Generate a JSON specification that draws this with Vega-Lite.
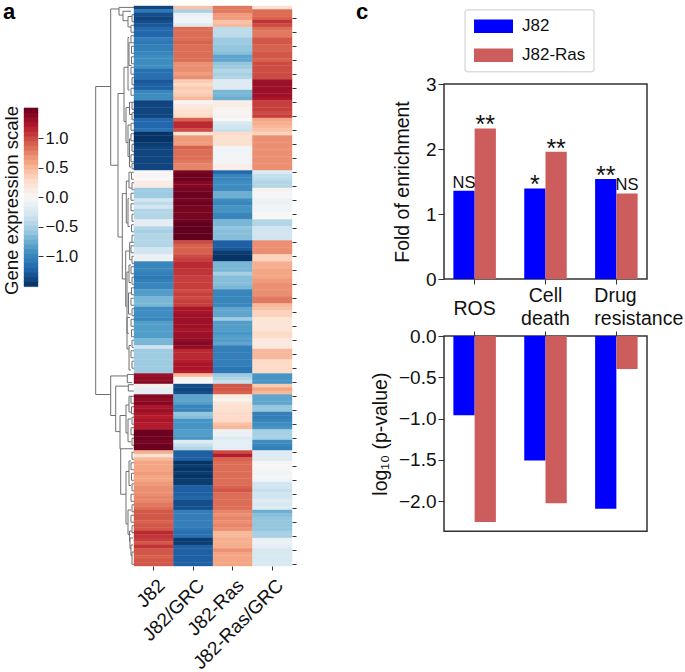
{"$schema":"https://vega.github.io/schema/vega-lite/v6.json","padding":{"left":2,"top":1,"right":0,"bottom":0},"background":"white","bounds":"flush","spacing":0,"config":{"font":"Liberation Sans","axis":{"labelFont":"Liberation Sans","titleFont":"Liberation Sans","labelColor":"#111","titleColor":"#111","tickColor":"#333","grid":false,"titleFontWeight":"normal"},"title":{"font":"Liberation Sans"},"legend":{"labelFont":"Liberation Sans","strokeWidth":1.5}},"datasets":{"heat":[
{"row":0,"J82":-1.4,"J82/GRC":0.45,"J82-Ras":0.8,"J82-Ras/GRC":0.25},{"row":1,"J82":-1.1,"J82/GRC":-0.5,"J82-Ras":0.8,"J82-Ras/GRC":0.85},{"row":2,"J82":-1.35,"J82/GRC":-0.1,"J82-Ras":0.65,"J82-Ras/GRC":0.85},{"row":3,"J82":-1.4,"J82/GRC":-0.05,"J82-Ras":0.65,"J82-Ras/GRC":0.9},{"row":4,"J82":-1.35,"J82/GRC":-0.05,"J82-Ras":0.45,"J82-Ras/GRC":1.1},{"row":5,"J82":-1.3,"J82/GRC":-0.2,"J82-Ras":0.5,"J82-Ras/GRC":1.0},{"row":6,"J82":-1.2,"J82/GRC":0.85,"J82-Ras":-0.4,"J82-Ras/GRC":0.85},{"row":7,"J82":-1.2,"J82/GRC":0.85,"J82-Ras":-0.4,"J82-Ras/GRC":0.8},{"row":8,"J82":-1.2,"J82/GRC":0.85,"J82-Ras":-0.4,"J82-Ras/GRC":0.8},{"row":9,"J82":-1.05,"J82/GRC":0.85,"J82-Ras":-0.55,"J82-Ras/GRC":0.95},
{"row":10,"J82":-1.1,"J82/GRC":0.9,"J82-Ras":-0.55,"J82-Ras/GRC":0.95},{"row":11,"J82":-1.05,"J82/GRC":0.85,"J82-Ras":-0.6,"J82-Ras/GRC":0.9},{"row":12,"J82":-1.05,"J82/GRC":0.85,"J82-Ras":-0.6,"J82-Ras/GRC":0.9},{"row":13,"J82":-1.0,"J82/GRC":0.85,"J82-Ras":-0.65,"J82-Ras/GRC":0.95},{"row":14,"J82":-0.95,"J82/GRC":0.85,"J82-Ras":-0.8,"J82-Ras/GRC":0.95},{"row":15,"J82":-0.95,"J82/GRC":0.85,"J82-Ras":-0.8,"J82-Ras/GRC":0.9},{"row":16,"J82":-0.95,"J82/GRC":0.7,"J82-Ras":-0.6,"J82-Ras/GRC":1.0},{"row":17,"J82":-0.95,"J82/GRC":0.7,"J82-Ras":-0.55,"J82-Ras/GRC":1.0},{"row":18,"J82":-1.15,"J82/GRC":0.7,"J82-Ras":-0.45,"J82-Ras/GRC":1.0},{"row":19,"J82":-1.15,"J82/GRC":0.65,"J82-Ras":-0.5,"J82-Ras/GRC":1.0},
{"row":20,"J82":-1.15,"J82/GRC":0.7,"J82-Ras":-0.45,"J82-Ras/GRC":1.0},{"row":21,"J82":-1.3,"J82/GRC":0.4,"J82-Ras":-0.2,"J82-Ras/GRC":1.3},{"row":22,"J82":-1.25,"J82/GRC":0.3,"J82-Ras":-0.2,"J82-Ras/GRC":1.3},{"row":23,"J82":-1.25,"J82/GRC":0.4,"J82-Ras":-0.2,"J82-Ras/GRC":1.3},{"row":24,"J82":-1.0,"J82/GRC":0.35,"J82-Ras":-0.7,"J82-Ras/GRC":1.3},{"row":25,"J82":-0.95,"J82/GRC":0.4,"J82-Ras":-0.7,"J82-Ras/GRC":1.3},{"row":26,"J82":-0.95,"J82/GRC":0.5,"J82-Ras":-0.75,"J82-Ras/GRC":1.25},{"row":27,"J82":-1.4,"J82/GRC":0.02,"J82-Ras":0.1,"J82-Ras/GRC":1.05},{"row":28,"J82":-1.4,"J82/GRC":0.15,"J82-Ras":0.1,"J82-Ras/GRC":1.05},{"row":29,"J82":-1.4,"J82/GRC":0.2,"J82-Ras":0.05,"J82-Ras/GRC":1.05},
{"row":30,"J82":-1.4,"J82/GRC":0.25,"J82-Ras":0.02,"J82-Ras/GRC":1.0},{"row":31,"J82":-1.4,"J82/GRC":0.3,"J82-Ras":0.05,"J82-Ras/GRC":1.05},{"row":32,"J82":-1.2,"J82/GRC":0.9,"J82-Ras":0.0,"J82-Ras/GRC":0.6},{"row":33,"J82":-1.2,"J82/GRC":1.15,"J82-Ras":-0.25,"J82-Ras/GRC":0.55},{"row":34,"J82":-1.2,"J82/GRC":1.15,"J82-Ras":-0.3,"J82-Ras/GRC":0.5},{"row":35,"J82":-1.15,"J82/GRC":1.0,"J82-Ras":-0.35,"J82-Ras/GRC":0.45},{"row":36,"J82":-1.5,"J82/GRC":0.2,"J82-Ras":0.3,"J82-Ras/GRC":0.35},{"row":37,"J82":-1.5,"J82/GRC":0.65,"J82-Ras":0.25,"J82-Ras/GRC":0.7},{"row":38,"J82":-1.5,"J82/GRC":0.65,"J82-Ras":0.25,"J82-Ras/GRC":0.7},{"row":39,"J82":-1.45,"J82/GRC":0.65,"J82-Ras":0.25,"J82-Ras/GRC":0.7},
{"row":40,"J82":-1.4,"J82/GRC":0.9,"J82-Ras":-0.05,"J82-Ras/GRC":0.7},{"row":41,"J82":-1.4,"J82/GRC":0.85,"J82-Ras":-0.05,"J82-Ras/GRC":0.7},{"row":42,"J82":-1.4,"J82/GRC":0.85,"J82-Ras":-0.05,"J82-Ras/GRC":0.7},{"row":43,"J82":-1.4,"J82/GRC":0.85,"J82-Ras":-0.05,"J82-Ras/GRC":0.7},{"row":44,"J82":-1.4,"J82/GRC":0.8,"J82-Ras":-0.05,"J82-Ras/GRC":0.7},{"row":45,"J82":-1.4,"J82/GRC":0.75,"J82-Ras":0.1,"J82-Ras/GRC":0.7},{"row":46,"J82":-1.4,"J82/GRC":0.75,"J82-Ras":0.1,"J82-Ras/GRC":0.7},{"row":47,"J82":0.0,"J82/GRC":1.45,"J82-Ras":-1.2,"J82-Ras/GRC":-0.2},{"row":48,"J82":0.02,"J82/GRC":1.5,"J82-Ras":-1.0,"J82-Ras/GRC":-0.35},{"row":49,"J82":0.0,"J82/GRC":1.5,"J82-Ras":-1.0,"J82-Ras/GRC":-0.4},
{"row":50,"J82":0.12,"J82/GRC":1.4,"J82-Ras":-0.95,"J82-Ras/GRC":-0.45},{"row":51,"J82":0.12,"J82/GRC":1.4,"J82-Ras":-0.95,"J82-Ras/GRC":-0.45},{"row":52,"J82":-0.55,"J82/GRC":1.45,"J82-Ras":-0.95,"J82-Ras/GRC":0.05},{"row":53,"J82":-0.55,"J82/GRC":1.5,"J82-Ras":-0.75,"J82-Ras/GRC":-0.02},{"row":54,"J82":-0.55,"J82/GRC":1.5,"J82-Ras":-0.75,"J82-Ras/GRC":-0.02},{"row":55,"J82":-0.3,"J82/GRC":1.45,"J82-Ras":-0.95,"J82-Ras/GRC":-0.1},{"row":56,"J82":-0.4,"J82/GRC":1.5,"J82-Ras":-1.0,"J82-Ras/GRC":-0.1},{"row":57,"J82":-0.3,"J82/GRC":1.45,"J82-Ras":-0.9,"J82-Ras/GRC":-0.05},{"row":58,"J82":-0.45,"J82/GRC":1.45,"J82-Ras":-0.9,"J82-Ras/GRC":-0.05},{"row":59,"J82":-0.45,"J82/GRC":1.45,"J82-Ras":-1.0,"J82-Ras/GRC":0.0},
{"row":60,"J82":-0.45,"J82/GRC":1.45,"J82-Ras":-1.0,"J82-Ras/GRC":0.0},{"row":61,"J82":-0.15,"J82/GRC":1.5,"J82-Ras":-0.7,"J82-Ras/GRC":-0.45},{"row":62,"J82":-0.15,"J82/GRC":1.55,"J82-Ras":-0.7,"J82-Ras/GRC":-0.45},{"row":63,"J82":-0.45,"J82/GRC":1.55,"J82-Ras":-0.6,"J82-Ras/GRC":-0.3},{"row":64,"J82":-0.5,"J82/GRC":1.55,"J82-Ras":-0.65,"J82-Ras/GRC":-0.3},{"row":65,"J82":-0.45,"J82/GRC":1.55,"J82-Ras":-0.65,"J82-Ras/GRC":-0.3},{"row":66,"J82":-0.45,"J82/GRC":1.55,"J82-Ras":-0.65,"J82-Ras/GRC":-0.3},{"row":67,"J82":-0.45,"J82/GRC":1.0,"J82-Ras":-1.25,"J82-Ras/GRC":0.7},{"row":68,"J82":-0.45,"J82/GRC":0.9,"J82-Ras":-1.25,"J82-Ras/GRC":0.7},{"row":69,"J82":-0.3,"J82/GRC":0.9,"J82-Ras":-1.3,"J82-Ras/GRC":0.7},
{"row":70,"J82":-0.3,"J82/GRC":0.9,"J82-Ras":-1.45,"J82-Ras/GRC":0.7},{"row":71,"J82":-0.1,"J82/GRC":1.0,"J82-Ras":-1.5,"J82-Ras/GRC":0.35},{"row":72,"J82":-0.1,"J82/GRC":1.05,"J82-Ras":-1.5,"J82-Ras/GRC":0.35},{"row":73,"J82":-1.0,"J82/GRC":1.15,"J82-Ras":-0.7,"J82-Ras/GRC":0.55},{"row":74,"J82":-1.0,"J82/GRC":1.15,"J82-Ras":-0.7,"J82-Ras/GRC":0.55},{"row":75,"J82":-1.0,"J82/GRC":1.1,"J82-Ras":-0.7,"J82-Ras/GRC":0.6},{"row":76,"J82":-1.05,"J82/GRC":1.1,"J82-Ras":-0.5,"J82-Ras/GRC":0.6},{"row":77,"J82":-1.1,"J82/GRC":1.05,"J82-Ras":-0.65,"J82-Ras/GRC":0.6},{"row":78,"J82":-1.05,"J82/GRC":1.05,"J82-Ras":-0.65,"J82-Ras/GRC":0.65},{"row":79,"J82":-1.0,"J82/GRC":1.05,"J82-Ras":-0.65,"J82-Ras/GRC":0.7},
{"row":80,"J82":-1.0,"J82/GRC":1.05,"J82-Ras":-0.7,"J82-Ras/GRC":0.7},{"row":81,"J82":-0.85,"J82/GRC":1.0,"J82-Ras":-1.0,"J82-Ras/GRC":0.7},{"row":82,"J82":-0.85,"J82/GRC":1.05,"J82-Ras":-1.0,"J82-Ras/GRC":0.7},{"row":83,"J82":-0.7,"J82/GRC":1.0,"J82-Ras":-1.0,"J82-Ras/GRC":0.8},{"row":84,"J82":-0.7,"J82/GRC":1.05,"J82-Ras":-1.0,"J82-Ras/GRC":0.8},{"row":85,"J82":-0.7,"J82/GRC":1.05,"J82-Ras":-1.0,"J82-Ras/GRC":0.5},{"row":86,"J82":-0.95,"J82/GRC":1.25,"J82-Ras":-0.8,"J82-Ras/GRC":0.45},{"row":87,"J82":-0.95,"J82/GRC":1.25,"J82-Ras":-0.8,"J82-Ras/GRC":0.35},{"row":88,"J82":-0.95,"J82/GRC":1.3,"J82-Ras":-0.8,"J82-Ras/GRC":0.35},{"row":89,"J82":-1.0,"J82/GRC":1.3,"J82-Ras":-0.55,"J82-Ras/GRC":0.2},
{"row":90,"J82":-0.85,"J82/GRC":1.3,"J82-Ras":-0.85,"J82-Ras/GRC":0.2},{"row":91,"J82":-0.85,"J82/GRC":1.3,"J82-Ras":-0.85,"J82-Ras/GRC":0.2},{"row":92,"J82":-0.85,"J82/GRC":1.25,"J82-Ras":-0.85,"J82-Ras/GRC":0.2},{"row":93,"J82":-0.85,"J82/GRC":1.3,"J82-Ras":-0.9,"J82-Ras/GRC":0.3},{"row":94,"J82":-0.85,"J82/GRC":1.3,"J82-Ras":-0.85,"J82-Ras/GRC":0.3},{"row":95,"J82":-0.7,"J82/GRC":1.35,"J82-Ras":-0.85,"J82-Ras/GRC":0.15},{"row":96,"J82":-0.7,"J82/GRC":1.4,"J82-Ras":-0.8,"J82-Ras/GRC":0.15},{"row":97,"J82":-0.3,"J82/GRC":1.35,"J82-Ras":-1.05,"J82-Ras/GRC":0.15},{"row":98,"J82":-0.55,"J82/GRC":1.15,"J82-Ras":-1.05,"J82-Ras/GRC":0.5},{"row":99,"J82":-0.55,"J82/GRC":1.15,"J82-Ras":-1.05,"J82-Ras/GRC":0.5},
{"row":100,"J82":-0.55,"J82/GRC":1.15,"J82-Ras":-1.05,"J82-Ras/GRC":0.5},{"row":101,"J82":-0.55,"J82/GRC":1.2,"J82-Ras":-1.05,"J82-Ras/GRC":0.3},{"row":102,"J82":-0.55,"J82/GRC":1.25,"J82-Ras":-1.05,"J82-Ras/GRC":0.3},{"row":103,"J82":-0.55,"J82/GRC":1.25,"J82-Ras":-1.1,"J82-Ras/GRC":0.3},{"row":104,"J82":-0.55,"J82/GRC":1.2,"J82-Ras":-1.1,"J82-Ras/GRC":0.3},{"row":105,"J82":1.3,"J82/GRC":0.5,"J82-Ras":-0.55,"J82-Ras/GRC":-0.9},{"row":106,"J82":1.35,"J82/GRC":0.05,"J82-Ras":-0.45,"J82-Ras/GRC":-0.9},{"row":107,"J82":1.4,"J82/GRC":0.0,"J82-Ras":-0.35,"J82-Ras/GRC":-0.9},{"row":108,"J82":0.1,"J82/GRC":-1.35,"J82-Ras":0.95,"J82-Ras/GRC":0.4},{"row":109,"J82":-0.15,"J82/GRC":-1.4,"J82-Ras":0.95,"J82-Ras/GRC":0.6},
{"row":110,"J82":-0.15,"J82/GRC":-1.35,"J82-Ras":0.9,"J82-Ras/GRC":0.5},{"row":111,"J82":1.4,"J82/GRC":-0.8,"J82-Ras":0.15,"J82-Ras/GRC":-0.8},{"row":112,"J82":1.35,"J82/GRC":-0.8,"J82-Ras":0.05,"J82-Ras/GRC":-0.8},{"row":113,"J82":1.4,"J82/GRC":-0.85,"J82-Ras":0.2,"J82-Ras/GRC":-0.8},{"row":114,"J82":1.25,"J82/GRC":-1.0,"J82-Ras":0.25,"J82-Ras/GRC":-0.6},{"row":115,"J82":1.3,"J82/GRC":-1.0,"J82-Ras":0.25,"J82-Ras/GRC":-0.6},{"row":116,"J82":1.25,"J82/GRC":-0.6,"J82-Ras":0.3,"J82-Ras/GRC":-1.05},{"row":117,"J82":1.2,"J82/GRC":-0.65,"J82-Ras":0.3,"J82-Ras/GRC":-1.05},{"row":118,"J82":1.25,"J82/GRC":-0.9,"J82-Ras":0.3,"J82-Ras/GRC":-1.0},{"row":119,"J82":1.2,"J82/GRC":-0.9,"J82-Ras":0.45,"J82-Ras/GRC":-0.95},
{"row":120,"J82":1.2,"J82/GRC":-0.9,"J82-Ras":0.5,"J82-Ras/GRC":-0.9},{"row":121,"J82":1.5,"J82/GRC":-0.85,"J82-Ras":-0.1,"J82-Ras/GRC":-0.5},{"row":122,"J82":1.5,"J82/GRC":-0.85,"J82-Ras":-0.1,"J82-Ras/GRC":-0.5},{"row":123,"J82":1.5,"J82/GRC":-0.9,"J82-Ras":-0.2,"J82-Ras/GRC":-0.5},{"row":124,"J82":1.45,"J82/GRC":-0.2,"J82-Ras":-0.15,"J82-Ras/GRC":-0.95},{"row":125,"J82":1.5,"J82/GRC":-0.35,"J82-Ras":-0.15,"J82-Ras/GRC":-1.0},{"row":126,"J82":1.5,"J82/GRC":-0.45,"J82-Ras":-0.15,"J82-Ras/GRC":-1.05},{"row":127,"J82":0.55,"J82/GRC":-1.25,"J82-Ras":1.0,"J82-Ras/GRC":-0.2},{"row":128,"J82":0.25,"J82/GRC":-1.25,"J82-Ras":1.2,"J82-Ras/GRC":-0.2},{"row":129,"J82":0.5,"J82/GRC":-1.25,"J82-Ras":0.9,"J82-Ras/GRC":-0.2},
{"row":130,"J82":0.6,"J82/GRC":-1.5,"J82-Ras":0.85,"J82-Ras/GRC":0.02},{"row":131,"J82":0.6,"J82/GRC":-1.45,"J82-Ras":0.85,"J82-Ras/GRC":0.0},{"row":132,"J82":0.6,"J82/GRC":-1.5,"J82-Ras":0.85,"J82-Ras/GRC":0.02},{"row":133,"J82":0.65,"J82/GRC":-1.45,"J82-Ras":0.85,"J82-Ras/GRC":-0.05},{"row":134,"J82":0.6,"J82/GRC":-1.5,"J82-Ras":0.85,"J82-Ras/GRC":-0.02},{"row":135,"J82":0.6,"J82/GRC":-1.45,"J82-Ras":0.85,"J82-Ras/GRC":-0.05},{"row":136,"J82":0.65,"J82/GRC":-1.45,"J82-Ras":0.85,"J82-Ras/GRC":-0.3},{"row":137,"J82":0.7,"J82/GRC":-1.25,"J82-Ras":0.9,"J82-Ras/GRC":-0.3},{"row":138,"J82":0.7,"J82/GRC":-1.25,"J82-Ras":0.95,"J82-Ras/GRC":-0.35},{"row":139,"J82":0.7,"J82/GRC":-1.25,"J82-Ras":0.85,"J82-Ras/GRC":-0.3},
{"row":140,"J82":0.75,"J82/GRC":-1.2,"J82-Ras":0.85,"J82-Ras/GRC":-0.3},{"row":141,"J82":0.75,"J82/GRC":-1.35,"J82-Ras":0.85,"J82-Ras/GRC":-0.2},{"row":142,"J82":0.8,"J82/GRC":-1.35,"J82-Ras":0.85,"J82-Ras/GRC":-0.25},{"row":143,"J82":0.85,"J82/GRC":-1.35,"J82-Ras":0.85,"J82-Ras/GRC":-0.2},{"row":144,"J82":0.95,"J82/GRC":-1.05,"J82-Ras":0.75,"J82-Ras/GRC":-0.75},{"row":145,"J82":0.95,"J82/GRC":-1.05,"J82-Ras":0.7,"J82-Ras/GRC":-0.65},{"row":146,"J82":0.95,"J82/GRC":-1.05,"J82-Ras":0.75,"J82-Ras/GRC":-0.6},{"row":147,"J82":0.9,"J82/GRC":-1.05,"J82-Ras":0.7,"J82-Ras/GRC":-0.6},{"row":148,"J82":0.95,"J82/GRC":-1.05,"J82-Ras":0.75,"J82-Ras/GRC":-0.6},{"row":149,"J82":0.95,"J82/GRC":-1.1,"J82-Ras":0.7,"J82-Ras/GRC":-0.6},
{"row":150,"J82":1.15,"J82/GRC":-1.15,"J82-Ras":0.5,"J82-Ras/GRC":-0.5},{"row":151,"J82":1.1,"J82/GRC":-1.15,"J82-Ras":0.5,"J82-Ras/GRC":-0.5},{"row":152,"J82":1.05,"J82/GRC":-1.45,"J82-Ras":0.55,"J82-Ras/GRC":-0.1},{"row":153,"J82":0.95,"J82/GRC":-1.45,"J82-Ras":0.55,"J82-Ras/GRC":-0.1},{"row":154,"J82":1.1,"J82/GRC":-1.25,"J82-Ras":0.55,"J82-Ras/GRC":-0.15},{"row":155,"J82":0.95,"J82/GRC":-1.25,"J82-Ras":0.7,"J82-Ras/GRC":-0.25},{"row":156,"J82":0.95,"J82/GRC":-1.25,"J82-Ras":0.6,"J82-Ras/GRC":-0.25},{"row":157,"J82":0.9,"J82/GRC":-1.25,"J82-Ras":0.6,"J82-Ras/GRC":-0.25},{"row":158,"J82":0.95,"J82/GRC":-1.25,"J82-Ras":0.6,"J82-Ras/GRC":-0.25},{"row":159,"J82":0.95,"J82/GRC":-1.25,"J82-Ras":0.6,"J82-Ras/GRC":-0.25}
],"tree":[
{"d":38.3,"r1":23,"r2":111,"c1":23.3,"c2":23.3},{"d":23.3,"r1":0.85,"r2":45.5,"c1":15,"c2":16},{"d":15,"r1":0.4,"r2":2.6,"c1":0,"c2":11},{"d":11,"r1":1.5,"r2":4.2,"c1":3,"c2":6},{"d":6,"r1":3,"r2":6,"c1":2,"c2":3},{"d":16,"r1":25,"r2":66,"c1":10,"c2":11.7},{"d":10,"r1":17.5,"r2":33,"c1":6,"c2":8},{"d":6,"r1":9,"r2":24,"c1":5,"c2":4.5},{"d":5,"r1":10.5,"r2":17,"c1":3,"c2":2.5},{"d":8,"r1":29,"r2":39,"c1":4.5,"c2":6},{"d":4.5,"r1":27.5,"r2":31,"c1":2,"c2":2},{"d":6,"r1":34,"r2":43,"c1":3.5,"c2":4.5},{"d":4.5,"r1":38,"r2":46,"c1":3,"c2":3},
{"d":11.7,"r1":53.6,"r2":78,"c1":7.7,"c2":8.3},{"d":7.7,"r1":50,"r2":62,"c1":5,"c2":6},{"d":5,"r1":47.5,"r2":52,"c1":3,"c2":2},{"d":6,"r1":55,"r2":63,"c1":5,"c2":4},{"d":8.3,"r1":70,"r2":85.8,"c1":4.3,"c2":7},{"d":4.3,"r1":67.5,"r2":72.5,"c1":2,"c2":2.5},{"d":7,"r1":76,"r2":93.5,"c1":5,"c2":5},{"d":5,"r1":74,"r2":79,"c1":3,"c2":3},{"d":5.5,"r1":82,"r2":88,"c1":3,"c2":3},{"d":7,"r1":89,"r2":98,"c1":4,"c2":5},{"d":5,"r1":97,"r2":104,"c1":3,"c2":3},
{"d":23.3,"r1":105.7,"r2":117,"c1":6.7,"c2":18.3},{"d":6.7,"r1":105.3,"r2":107.6,"c1":0,"c2":2},{"d":18.3,"r1":108.6,"r2":121.6,"c1":5.7,"c2":14},{"d":5.7,"r1":108.2,"r2":110,"c1":0,"c2":0},{"d":14,"r1":117,"r2":126.5,"c1":8,"c2":13.3},{"d":13.3,"r1":126.5,"r2":139.5,"c1":1,"c2":8},{"d":8,"r1":114,"r2":122,"c1":5,"c2":6},{"d":5,"r1":111.5,"r2":116,"c1":2.5,"c2":3},{"d":6,"r1":118,"r2":124.5,"c1":3,"c2":3},{"d":8,"r1":133,"r2":148,"c1":5,"c2":6},{"d":6,"r1":144,"r2":151,"c1":3,"c2":3.5},{"d":5,"r1":130,"r2":137,"c1":3,"c2":3},{"d":4.5,"r1":150,"r2":153,"c1":2.5,"c2":4},{"d":4,"r1":152,"r2":155,"c1":1,"c2":3},{"d":3,"r1":154,"r2":157,"c1":1,"c2":2},{"d":2,"r1":156,"r2":159.5,"c1":0,"c2":0},
{"d":2,"r1":2.5,"r2":4.5,"c1":0,"c2":0},{"d":3,"r1":5.5,"r2":7.5,"c1":0,"c2":0},{"d":3,"r1":8.5,"r2":10.5,"c1":0,"c2":0},{"d":2.5,"r1":11.5,"r2":13.5,"c1":0,"c2":0},{"d":2.5,"r1":14.5,"r2":16.5,"c1":0,"c2":0},{"d":3,"r1":17.5,"r2":19.5,"c1":0,"c2":0},{"d":2,"r1":20.5,"r2":22.5,"c1":0,"c2":0},{"d":3,"r1":23.5,"r2":25.5,"c1":0,"c2":0},{"d":2,"r1":27.5,"r2":29.5,"c1":0,"c2":0},{"d":2,"r1":30.5,"r2":32.5,"c1":0,"c2":0},{"d":3,"r1":33.5,"r2":35.5,"c1":0,"c2":0},{"d":3,"r1":36.5,"r2":38.5,"c1":0,"c2":0},{"d":2,"r1":39.5,"r2":41.5,"c1":0,"c2":0},{"d":3,"r1":42.5,"r2":44.5,"c1":0,"c2":0},{"d":2,"r1":45,"r2":46.5,"c1":0,"c2":0},
{"d":2.5,"r1":47.5,"r2":49.5,"c1":0,"c2":0},{"d":2,"r1":50.5,"r2":52.5,"c1":0,"c2":0},{"d":3,"r1":53.5,"r2":55.5,"c1":0,"c2":0},{"d":3,"r1":56.5,"r2":58.5,"c1":0,"c2":0},{"d":2,"r1":59.5,"r2":61.5,"c1":0,"c2":0},{"d":2.5,"r1":62.5,"r2":64.5,"c1":0,"c2":0},{"d":2,"r1":65.5,"r2":67.5,"c1":0,"c2":0},{"d":3,"r1":68.5,"r2":70.5,"c1":0,"c2":0},{"d":2,"r1":71.5,"r2":73.5,"c1":0,"c2":0},{"d":3,"r1":74.5,"r2":76.5,"c1":0,"c2":0},{"d":2,"r1":77.5,"r2":79.5,"c1":0,"c2":0},{"d":2.5,"r1":80.5,"r2":82.5,"c1":0,"c2":0},{"d":3,"r1":83.5,"r2":85.5,"c1":0,"c2":0},{"d":2,"r1":86.5,"r2":88.5,"c1":0,"c2":0},{"d":3,"r1":89.5,"r2":91.5,"c1":0,"c2":0},{"d":2.5,"r1":92.5,"r2":94.5,"c1":0,"c2":0},{"d":2,"r1":95.5,"r2":97.5,"c1":0,"c2":0},{"d":3,"r1":98.5,"r2":100.5,"c1":0,"c2":0},{"d":2,"r1":101.5,"r2":103.5,"c1":0,"c2":0},
{"d":3,"r1":111.5,"r2":113.5,"c1":0,"c2":0},{"d":2.5,"r1":114.5,"r2":116.5,"c1":0,"c2":0},{"d":2,"r1":117.5,"r2":119.5,"c1":0,"c2":0},{"d":3,"r1":120.5,"r2":122.5,"c1":0,"c2":0},{"d":2,"r1":123.5,"r2":125.5,"c1":0,"c2":0},{"d":2,"r1":127.5,"r2":129.5,"c1":0,"c2":0},{"d":3,"r1":130.5,"r2":132.5,"c1":0,"c2":0},{"d":2.5,"r1":133.5,"r2":135.5,"c1":0,"c2":0},{"d":2,"r1":136.5,"r2":138.5,"c1":0,"c2":0},{"d":3,"r1":139.5,"r2":141.5,"c1":0,"c2":0},{"d":2,"r1":142.5,"r2":144.5,"c1":0,"c2":0},{"d":3,"r1":145.5,"r2":147.5,"c1":0,"c2":0},{"d":2,"r1":148.5,"r2":150.5,"c1":0,"c2":0}
],"bar":[{"cat":"ROS","s":"J82","fold":1.358,"logp":-0.958,"sig":"NS"},{"cat":"ROS","s":"J82-Ras","fold":2.317,"logp":-2.25,"sig":"**"},{"cat":"Cell death","s":"J82","fold":1.394,"logp":-1.507,"sig":"*"},{"cat":"Cell death","s":"J82-Ras","fold":1.958,"logp":-2.024,"sig":"**"},{"cat":"Drug resistance","s":"J82","fold":1.538,"logp":-2.09,"sig":"**"},{"cat":"Drug resistance","s":"J82-Ras","fold":1.317,"logp":-0.4,"sig":"NS"}],
"bar0":[{"v":-1.48,"lo":-1.52,"hi":-1.43},{"v":-1.4,"lo":-1.44,"hi":-1.35},{"v":-1.32,"lo":-1.36,"hi":-1.27},{"v":-1.24,"lo":-1.28,"hi":-1.19},{"v":-1.16,"lo":-1.2,"hi":-1.11},{"v":-1.08,"lo":-1.12,"hi":-1.03},{"v":-1.0,"lo":-1.04,"hi":-0.95},{"v":-0.92,"lo":-0.96,"hi":-0.87},{"v":-0.84,"lo":-0.88,"hi":-0.79},{"v":-0.76,"lo":-0.8,"hi":-0.71},{"v":-0.68,"lo":-0.72,"hi":-0.63},{"v":-0.6,"lo":-0.64,"hi":-0.55},{"v":-0.52,"lo":-0.56,"hi":-0.47},{"v":-0.44,"lo":-0.48,"hi":-0.39},{"v":-0.36,"lo":-0.4,"hi":-0.31},{"v":-0.28,"lo":-0.32,"hi":-0.23},{"v":-0.2,"lo":-0.24,"hi":-0.15},{"v":-0.12,"lo":-0.16,"hi":-0.07},{"v":-0.04,"lo":-0.08,"hi":0.01},{"v":0.04,"lo":0.0,"hi":0.09},{"v":0.12,"lo":0.08,"hi":0.17},{"v":0.2,"lo":0.16,"hi":0.25},{"v":0.28,"lo":0.24,"hi":0.33},{"v":0.36,"lo":0.32,"hi":0.41},{"v":0.44,"lo":0.4,"hi":0.49},{"v":0.52,"lo":0.48,"hi":0.57},{"v":0.6,"lo":0.56,"hi":0.65},{"v":0.68,"lo":0.64,"hi":0.73},{"v":0.76,"lo":0.72,"hi":0.81},{"v":0.84,"lo":0.8,"hi":0.89},{"v":0.92,"lo":0.88,"hi":0.97},{"v":1.0,"lo":0.96,"hi":1.05},{"v":1.08,"lo":1.04,"hi":1.13},{"v":1.16,"lo":1.12,"hi":1.21},{"v":1.24,"lo":1.2,"hi":1.29},{"v":1.32,"lo":1.28,"hi":1.37},{"v":1.4,"lo":1.36,"hi":1.45},{"v":1.48,"lo":1.44,"hi":1.52}]},
"resolve":{"scale":{"color":"independent","stroke":"independent"}},
"hconcat":[
{"width":14,"height":560,"view":{"stroke":null},"title":{"text":"a","anchor":"start","frame":"group","dx":-21,"dy":22,"fontSize":22,"fontWeight":"bold","color":"#000"},"data":{"name":"bar0"},"mark":{"type":"rect","strokeWidth":0.4},"encoding":{"y":{"field":"lo","type":"quantitative","scale":{"domain":[-6.27,3.253],"nice":false,"zero":false},"axis":{"orient":"right","values":[1,0.5,0,-0.5,-1],"format":".1f","labelFontSize":16.5,"tickSize":5,"domain":false,"title":"Gene expression scale","titleFontSize":18.6,"titleX":-27,"titleY":194,"titleAngle":270,"titleAlign":"center","titleBaseline":"middle"}},"y2":{"field":"hi"},"color":{"field":"v","type":"quantitative","legend":null,"scale":{"interpolate":"rgb","domain":[-1.52,-1.216,-0.912,-0.608,-0.304,0,0.304,0.608,0.912,1.216,1.52],"range":["#053061","#2166ac","#4393c3","#92c5de","#d1e5f0","#f7f7f7","#fddbc7","#f4a582","#d6604d","#b2182b","#67001f"]}},"stroke":{"field":"v","type":"quantitative","legend":null,"scale":{"interpolate":"rgb","domain":[-1.52,-1.216,-0.912,-0.608,-0.304,0,0.304,0.608,0.912,1.216,1.52],"range":["#053061","#2166ac","#4393c3","#92c5de","#d1e5f0","#f7f7f7","#fddbc7","#f4a582","#d6604d","#b2182b","#67001f"]}}}},
{"width":57,"height":560,"view":{"stroke":null},"data":{"values":[{"x":1}]},"mark":{"type":"rect","opacity":0},"encoding":{}},
{"width":39,"height":560,"view":{"stroke":null},"data":{"name":"tree"},"layer":[
{"mark":{"type":"rule","color":"#707070","strokeWidth":1},"encoding":{"x":{"field":"d","type":"quantitative","scale":{"domain":[39,0],"nice":false,"zero":false},"axis":null},"y":{"field":"r1","type":"quantitative","scale":{"domain":[160,0],"nice":false,"zero":false},"axis":null},"y2":{"field":"r2"}}},
{"mark":{"type":"rule","color":"#707070","strokeWidth":1},"encoding":{"x":{"field":"d","type":"quantitative"},"x2":{"field":"c1"},"y":{"field":"r1","type":"quantitative"}}},
{"mark":{"type":"rule","color":"#707070","strokeWidth":1},"encoding":{"x":{"field":"d","type":"quantitative"},"x2":{"field":"c2"},"y":{"field":"r2","type":"quantitative"}}}
]},
{"width":158,"height":560,"view":{"stroke":null},"data":{"name":"heat"},"transform":[{"fold":["J82","J82/GRC","J82-Ras","J82-Ras/GRC"],"as":["sample","value"]}],"mark":{"type":"rect","strokeWidth":0.4},"encoding":{"x":{"field":"sample","type":"nominal","sort":["J82","J82/GRC","J82-Ras","J82-Ras/GRC"],"scale":{"paddingInner":0,"paddingOuter":0},"axis":{"title":null,"labelAngle":315,"labelAlign":"right","labelBaseline":"middle","labelFontSize":19,"tickSize":4,"labelPadding":12,"labelOffset":8,"domain":false}},"y":{"field":"row","type":"ordinal","scale":{"paddingInner":0,"paddingOuter":0},"axis":{"orient":"right","title":null,"labels":false,"domain":false,"tickSize":4,"values":[3,7,11,15,19,23,27,31,35,39,43,47,51,55,59,63,67,71,75,79,83,87,91,95,99,103,107,111,115,119,123,127,131,135,139,143,147,151,155,159]}},"color":{"field":"value","type":"quantitative","legend":null,"scale":{"interpolate":"rgb","domain":[-1.52,-1.216,-0.912,-0.608,-0.304,0,0.304,0.608,0.912,1.216,1.52],"range":["#053061","#2166ac","#4393c3","#92c5de","#d1e5f0","#f7f7f7","#fddbc7","#f4a582","#d6604d","#b2182b","#67001f"]}},"stroke":{"field":"value","type":"quantitative","legend":null,"scale":{"interpolate":"rgb","domain":[-1.52,-1.216,-0.912,-0.608,-0.304,0,0.304,0.608,0.912,1.216,1.52],"range":["#053061","#2166ac","#4393c3","#92c5de","#d1e5f0","#f7f7f7","#fddbc7","#f4a582","#d6604d","#b2182b","#67001f"]}}}},
{"width":152,"height":560,"view":{"stroke":null},"data":{"values":[{"x":1}]},"mark":{"type":"rect","opacity":0},"encoding":{}},
{"bounds":"flush","spacing":57,"vconcat":[
{"width":203,"height":20.3,"view":{"stroke":null},"title":{"text":"c","anchor":"start","frame":"group","dx":-88,"dy":22,"fontSize":22,"fontWeight":"bold","color":"#000"},"data":{"values":[{"x":1}]},"mark":{"type":"rect","opacity":0},"encoding":{}},
{"width":203,"height":195,"view":{"stroke":"#333","strokeWidth":1.5},"data":{"name":"bar"},"layer":[
{"mark":{"type":"bar"},"encoding":{"x":{"field":"cat","type":"nominal","sort":["ROS","Cell death","Drug resistance"],"scale":{"paddingInner":0,"paddingOuter":0,"range":[-4.8,207.8]},"axis":{"title":null,"labelAngle":0,"labelFontSize":19.5,"labelLineHeight":23,"labelExpr":"split(datum.value,' ')","labelBaseline":"middle","labelPadding":{"condition":{"test":"datum.value=='ROS'","value":24},"value":11},"tickSize":5,"domain":false,"labelAlign":{"condition":{"test":"datum.value=='Drug resistance'","value":"left"},"value":"center"},"labelOffset":{"condition":{"test":"datum.value=='Drug resistance'","value":-22},"value":0}}},"xOffset":{"field":"s","type":"nominal","sort":["J82","J82-Ras"],"scale":{"paddingInner":0,"paddingOuter":0.667}},"y":{"field":"fold","type":"quantitative","scale":{"domain":[0,3],"nice":false},"axis":{"title":"Fold of enrichment","values":[0,1,2,3],"format":"d","labelFontSize":19,"titleFontSize":19.5,"tickSize":6,"domain":false,"titlePadding":13}},"color":{"field":"s","type":"nominal","sort":["J82","J82-Ras"],"scale":{"domain":["J82","J82-Ras"],"range":["#0000ff","#cd5c5c"]},"legend":{"title":null,"orient":"none","legendX":21,"legendY":3.7,"labelFontSize":17,"labelOffset":32,"symbolType":"M-1,-0.9H4.2V0.9H-1Z","symbolSize":225,"symbolStrokeWidth":0,"strokeColor":"#ddd","fillColor":"#fff","cornerRadius":3,"padding":8,"rowPadding":11,"labelColor":"#111"}}}},
{"transform":[{"filter":"datum.sig=='NS'"}],"mark":{"type":"text","fontSize":16.5,"dy":-3,"baseline":"alphabetic","color":"#111"},"encoding":{"x":{"field":"cat","type":"nominal","sort":["ROS","Cell death","Drug resistance"]},"xOffset":{"field":"s","type":"nominal","sort":["J82","J82-Ras"]},"y":{"field":"fold","type":"quantitative"},"text":{"field":"sig"}}},
{"transform":[{"filter":"datum.sig!='NS'"}],"mark":{"type":"text","fontSize":25,"dy":5,"baseline":"alphabetic","color":"#111"},"encoding":{"x":{"field":"cat","type":"nominal","sort":["ROS","Cell death","Drug resistance"]},"xOffset":{"field":"s","type":"nominal","sort":["J82","J82-Ras"]},"y":{"field":"fold","type":"quantitative"},"text":{"field":"sig"}}}
]},
{"width":203,"height":195.3,"view":{"stroke":"#333","strokeWidth":1.5},"data":{"name":"bar"},"mark":{"type":"bar"},"encoding":{"x":{"field":"cat","type":"nominal","sort":["ROS","Cell death","Drug resistance"],"scale":{"paddingInner":0,"paddingOuter":0,"range":[-4.8,207.8]},"axis":{"orient":"top","title":null,"labels":false,"tickSize":5,"domain":false}},"xOffset":{"field":"s","type":"nominal","sort":["J82","J82-Ras"],"scale":{"paddingInner":0,"paddingOuter":0.667}},"y":{"field":"logp","type":"quantitative","scale":{"domain":[-2.363,0],"nice":false},"axis":{"title":"log₁₀ (p-value)","values":[0,-0.5,-1,-1.5,-2],"format":".1f","labelFontSize":19,"titleFontSize":19.5,"tickSize":6,"domain":false,"titlePadding":8}},"color":{"field":"s","type":"nominal","legend":null,"scale":{"domain":["J82","J82-Ras"],"range":["#0000ff","#cd5c5c"]}}}}
]}
]}
